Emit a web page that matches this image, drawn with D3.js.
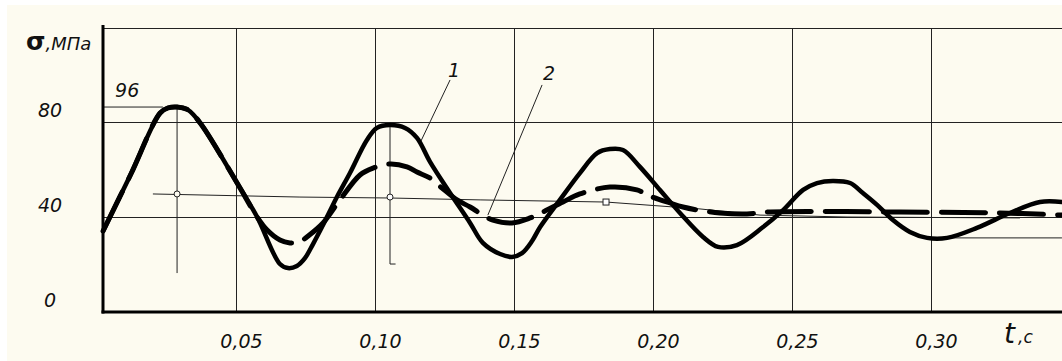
<!DOCTYPE html>
<html>
<head>
<meta charset="utf-8">
<script src="https://cdn.jsdelivr.net/npm/d3@7/dist/d3.min.js"></script>
<style>
  body { margin: 0; background: #fff; }
  text { font-family: "DejaVu Sans", sans-serif; fill: #111; }
</style>
</head>
<body>
<div id="chart"></div>
<script>
// values: time t (s) and stress sigma (MPa)
const curve1T = [0.0022, 0.0122, 0.0227, 0.0255, 0.0288, 0.0327, 0.0371, 0.0504, 0.0576, 0.0658, 0.0687, 0.0719, 0.0748,
  0.0777, 0.0813, 0.0863, 0.0910, 0.0971, 0.1007, 0.1054, 0.1108, 0.1151, 0.1198, 0.1270, 0.1342, 0.1388, 0.1450, 0.1493,
  0.1529, 0.1565, 0.1594, 0.1665, 0.1737, 0.1799, 0.1845, 0.1892, 0.1953, 0.2025, 0.2097, 0.2180, 0.2234, 0.2302, 0.2396,
  0.2468, 0.2540, 0.2590, 0.2647, 0.2709, 0.2755, 0.2806, 0.2863, 0.2924, 0.2986, 0.3058, 0.3165, 0.3284, 0.3392, 0.3471];
const curve1V = [34.1, 58.1, 83.8, 85.9, 86.3, 85.1, 79.6, 54.3, 40.0, 20.2, 18.5, 19.4, 22.7,
  28.6, 36.6, 48.4, 58.5, 72.4, 77.5, 78.7, 77.5, 73.3, 63.2, 50.1, 37.5, 29.1, 24.4, 23.2,
  24.8, 29.9, 35.8, 47.2, 58.5, 66.9, 68.6, 68.2, 61.1, 51.4, 41.7, 31.6, 27.4, 28.2, 35.8,
  42.9, 51.4, 54.3, 55.2, 54.3, 50.1, 45.1, 38.7, 33.7, 31.2, 31.2, 35.4, 41.7, 46.3, 46.3];

const curve2T = [0.0022, 0.0122, 0.0227, 0.0255, 0.0288, 0.0327, 0.0371, 0.0504, 0.0576, 0.0612, 0.0658, 0.0694, 0.0730,
  0.0755, 0.0813, 0.0874, 0.0946, 0.0993, 0.1054, 0.1115, 0.1151, 0.1198, 0.1241, 0.1295, 0.1342, 0.1388, 0.1424, 0.1493,
  0.1558, 0.1604, 0.1676, 0.1737, 0.1845, 0.1942, 0.1989, 0.2061, 0.2108, 0.2162, 0.2241, 0.2338, 0.2410, 0.2888, 0.3248, 0.3471];
const curve2V = [34.1, 58.1, 83.8, 85.9, 86.3, 85.1, 79.6, 54.3, 40.0, 34.5, 30.3, 29.1, 29.5,
  31.6, 37.5, 47.2, 57.7, 60.6, 62.3, 61.1, 58.9, 56.4, 52.2, 47.2, 44.2, 40.8, 38.7, 37.5,
  39.6, 42.1, 46.3, 49.7, 52.6, 51.4, 48.8, 45.9, 44.2, 42.9, 41.7, 41.3, 42.1, 42.1, 41.7, 40.8];

// thin mean line
const meanT = [0.0201, 0.0730, 0.1054, 0.1378, 0.1831, 0.2169, 0.2385, 0.2698, 0.3320];
const meanV = [49.7, 48.4, 48.0, 47.2, 46.3, 43.4, 40.8, 40.0, 39.6];
// last trough level line
const troughT = [0.3000, 0.3471];
const troughV = [31.2, 31.2];

const xTicks = [0.05, 0.10, 0.15, 0.20, 0.25, 0.30];
const yTicks = [0, 40, 80];
const peakLabel = "96";

const width = 1062, height = 361;
const plot = {left: 103, right: 1062, top: 28, bottom: 312};

const svg = d3.select("#chart").append("svg")
    .attr("width", width)
    .attr("height", height);

svg.append("rect").attr("width", width).attr("height", height).attr("fill", "#fff");
svg.append("rect").attr("x", 7).attr("y", 5).attr("width", width - 7).attr("height", height - 5)
    .attr("fill", "#fdfbf0");

const x = d3.scaleLinear().domain([0, 0.35]).range([97, 1070]);
const y = d3.scaleLinear().domain([0, 80]).range([plot.bottom, 122]);

// vertical grid + time labels
const xAxis = d3.axisBottom(x)
    .tickValues(xTicks)
    .tickSizeInner(-(plot.bottom - plot.top))
    .tickSizeOuter(0)
    .tickPadding(23)
    .tickFormat(d => d3.format(".2f")(d).replace(".", ","));

const gx = svg.append("g")
    .attr("transform", `translate(0,${plot.bottom})`)
    .call(xAxis);
gx.select(".domain").remove();
gx.selectAll("line").attr("stroke", "#222").attr("shape-rendering", "crispEdges");
gx.selectAll("text")
    .attr("dx", 5)
    .attr("font-size", 19)
    .attr("font-style", "italic")
    .attr("font-family", "DejaVu Sans")
    .attr("fill", "#111");

// horizontal grid + stress labels
const yAxis = d3.axisLeft(y)
    .tickValues(yTicks)
    .tickSizeInner(-(plot.right - plot.left))
    .tickSizeOuter(0);

const gy = svg.append("g")
    .attr("transform", `translate(${plot.left},0)`)
    .call(yAxis);
gy.select(".domain").remove();
gy.selectAll("line").attr("stroke", "#222").attr("shape-rendering", "crispEdges");
gy.selectAll("text")
    .attr("x", -53)
    .attr("dy", "-0.3em")
    .attr("text-anchor", "middle")
    .attr("font-size", 19)
    .attr("font-style", "italic")
    .attr("font-family", "DejaVu Sans")
    .attr("fill", "#111");

// top frame line
svg.append("line")
    .attr("x1", plot.left).attr("x2", plot.right)
    .attr("y1", plot.top + 0.5).attr("y2", plot.top + 0.5)
    .attr("stroke", "#222");

const line = d3.line()
    .x(d => x(d[0]))
    .y(d => y(d[1]));

const zip = (a, b) => a.map((v, i) => [v, b[i]]);

// thin helper lines
const thin = svg.append("g").attr("stroke", "#222").attr("fill", "none").attr("stroke-width", 1);

thin.append("path").attr("d", line(zip(meanT, meanV)));
thin.append("path").attr("d", line(zip(troughT, troughV)));

// peak reference line labelled 96
const peakV = d3.max(curve1V);
const peakT = curve1T[curve1V.indexOf(peakV)];
thin.append("path").attr("d", line([[0.0022, peakV], [0.0237, peakV]]));

// vertical lines through first two peaks
thin.append("path").attr("d", line([[peakT, peakV], [peakT, 16.4]]));
const peak2V = d3.max(curve1V.slice(15, 22));
const peak2T = curve1T[curve1V.indexOf(peak2V)];
thin.append("path").attr("d", line([[peak2T, peak2V], [peak2T, 20.2], [peak2T + 0.002, 20.2]]));

// leader lines for curve numbers
thin.append("path").attr("d", line([[0.1270, 97.7], [0.1165, 71.9]]));
thin.append("path").attr("d", line([[0.1601, 95.6], [0.1406, 40.8]]));

// curves
const smooth = d3.line()
    .x(d => x(d[0]))
    .y(d => y(d[1]))
    .curve(d3.curveCatmullRom.alpha(0.5));

svg.append("path")
    .attr("d", smooth(zip(curve1T, curve1V)))
    .attr("fill", "none")
    .attr("stroke", "#000")
    .attr("stroke-width", 4.5)
    .attr("stroke-linejoin", "round")
    .attr("stroke-linecap", "round");

svg.append("path")
    .attr("d", smooth(zip(curve2T, curve2V)))
    .attr("fill", "none")
    .attr("stroke", "#000")
    .attr("stroke-width", 5)
    .attr("stroke-dasharray", "44 14")
    .attr("stroke-linecap", "round");

// markers on the mean line
svg.append("circle")
    .attr("cx", x(peakT)).attr("cy", y(49.7)).attr("r", 3)
    .attr("fill", "#fdfbf0").attr("stroke", "#222");
svg.append("circle")
    .attr("cx", x(peak2T)).attr("cy", y(48.4)).attr("r", 3)
    .attr("fill", "#fff").attr("stroke", "#222");
svg.append("rect")
    .attr("x", x(0.1831) - 3).attr("y", y(46.3) - 3).attr("width", 6).attr("height", 6)
    .attr("fill", "#fff").attr("stroke", "#222");

// axes
svg.append("line")
    .attr("x1", plot.left).attr("x2", plot.left)
    .attr("y1", 25).attr("y2", plot.bottom + 1.5)
    .attr("stroke", "#000").attr("stroke-width", 3);
svg.append("line")
    .attr("x1", plot.left - 1.5).attr("x2", plot.right)
    .attr("y1", plot.bottom).attr("y2", plot.bottom)
    .attr("stroke", "#000").attr("stroke-width", 3);

// annotations
svg.append("text")
    .attr("x", x(0.0065)).attr("y", y(90.5))
    .attr("font-size", 19).attr("font-style", "italic")
    .text(peakLabel);

svg.append("text")
    .attr("x", x(0.1284)).attr("y", y(98.9))
    .attr("text-anchor", "middle")
    .attr("font-size", 19).attr("font-style", "italic")
    .text("1");
svg.append("text")
    .attr("x", x(0.1626)).attr("y", y(97.7))
    .attr("text-anchor", "middle")
    .attr("font-size", 19).attr("font-style", "italic")
    .text("2");

// axis titles
const yTitle = svg.append("text").attr("x", 26).attr("y", 50);
yTitle.append("tspan").attr("font-size", 25).attr("font-weight", "bold").text("σ");
yTitle.append("tspan").attr("font-size", 18).attr("font-style", "italic").text(",МПа");

const xTitle = svg.append("text").attr("x", 1004).attr("y", 343);
xTitle.append("tspan").attr("font-size", 28).attr("font-style", "italic").text("t");
xTitle.append("tspan").attr("font-size", 17).attr("font-style", "italic").attr("dx", 3).text(",с");
</script>
</body>
</html>
